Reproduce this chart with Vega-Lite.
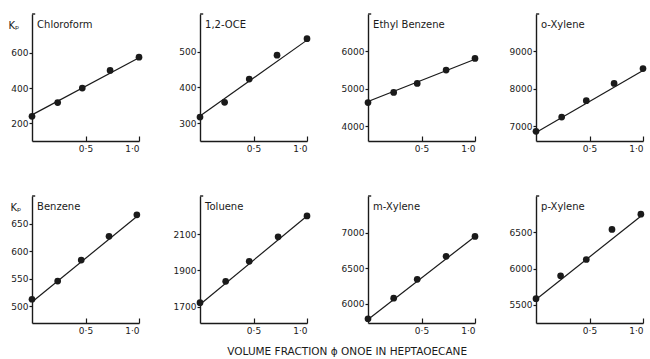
{
  "$schema": "https://vega.github.io/schema/vega-lite/v6.json",
  "padding": {"left": 8, "top": 13, "right": 0, "bottom": 2},
  "background": "white",
  "bounds": "flush",
  "columns": 4,
  "spacing": {"row": 55, "column": 61},
  "title": {"text": "VOLUME FRACTION ϕ ONOE IN HEPTAOECANE", "orient": "bottom", "anchor": "middle", "font": "DejaVu Sans", "fontSize": 10.5, "fontWeight": "normal", "color": "#1a1a1a", "dx": 20, "offset": 12},
  "datasets": {
    "pts": [
      {"c": "Chloroform", "phi": 0, "kp": 240}, {"c": "Chloroform", "phi": 0.24, "kp": 318}, {"c": "Chloroform", "phi": 0.47, "kp": 400}, {"c": "Chloroform", "phi": 0.73, "kp": 500}, {"c": "Chloroform", "phi": 1, "kp": 575},
      {"c": "DCE", "phi": 0, "kp": 317}, {"c": "DCE", "phi": 0.23, "kp": 358}, {"c": "DCE", "phi": 0.46, "kp": 423}, {"c": "DCE", "phi": 0.72, "kp": 490}, {"c": "DCE", "phi": 1, "kp": 536},
      {"c": "Ethyl Benzene", "phi": 0, "kp": 4630}, {"c": "Ethyl Benzene", "phi": 0.24, "kp": 4900}, {"c": "Ethyl Benzene", "phi": 0.46, "kp": 5140}, {"c": "Ethyl Benzene", "phi": 0.73, "kp": 5500}, {"c": "Ethyl Benzene", "phi": 1, "kp": 5810},
      {"c": "o-Xylene", "phi": 0, "kp": 6860}, {"c": "o-Xylene", "phi": 0.24, "kp": 7240}, {"c": "o-Xylene", "phi": 0.47, "kp": 7680}, {"c": "o-Xylene", "phi": 0.73, "kp": 8140}, {"c": "o-Xylene", "phi": 1, "kp": 8540},
      {"c": "Benzene", "phi": 0, "kp": 513}, {"c": "Benzene", "phi": 0.24, "kp": 546}, {"c": "Benzene", "phi": 0.46, "kp": 584}, {"c": "Benzene", "phi": 0.72, "kp": 627}, {"c": "Benzene", "phi": 0.98, "kp": 666},
      {"c": "Toluene", "phi": 0, "kp": 1722}, {"c": "Toluene", "phi": 0.24, "kp": 1840}, {"c": "Toluene", "phi": 0.46, "kp": 1950}, {"c": "Toluene", "phi": 0.73, "kp": 2085}, {"c": "Toluene", "phi": 1, "kp": 2200},
      {"c": "m-Xylene", "phi": 0, "kp": 5790}, {"c": "m-Xylene", "phi": 0.24, "kp": 6080}, {"c": "m-Xylene", "phi": 0.46, "kp": 6345}, {"c": "m-Xylene", "phi": 0.73, "kp": 6670}, {"c": "m-Xylene", "phi": 1, "kp": 6950},
      {"c": "p-Xylene", "phi": 0, "kp": 5585}, {"c": "p-Xylene", "phi": 0.23, "kp": 5900}, {"c": "p-Xylene", "phi": 0.47, "kp": 6125}, {"c": "p-Xylene", "phi": 0.71, "kp": 6540}, {"c": "p-Xylene", "phi": 0.98, "kp": 6750}
    ],
    "fit": [
      {"c": "Chloroform", "phi": 0, "kp": 248}, {"c": "Chloroform", "phi": 1, "kp": 572},
      {"c": "DCE", "phi": 0, "kp": 320}, {"c": "DCE", "phi": 1, "kp": 532},
      {"c": "Ethyl Benzene", "phi": 0, "kp": 4620}, {"c": "Ethyl Benzene", "phi": 0.03, "kp": 4690}, {"c": "Ethyl Benzene", "phi": 1, "kp": 5790},
      {"c": "o-Xylene", "phi": 0, "kp": 6830}, {"c": "o-Xylene", "phi": 1, "kp": 8490},
      {"c": "Benzene", "phi": 0, "kp": 508}, {"c": "Benzene", "phi": 1, "kp": 666},
      {"c": "Toluene", "phi": 0, "kp": 1712}, {"c": "Toluene", "phi": 1, "kp": 2200},
      {"c": "m-Xylene", "phi": 0, "kp": 5780}, {"c": "m-Xylene", "phi": 1, "kp": 6950},
      {"c": "p-Xylene", "phi": 0, "kp": 5575}, {"c": "p-Xylene", "phi": 1, "kp": 6745}
    ],
    "names": [
      {"c": "Chloroform", "label": "Chloroform"}, {"c": "DCE", "label": "1,2-OCE"}, {"c": "Ethyl Benzene", "label": "Ethyl Benzene"}, {"c": "o-Xylene", "label": "o-Xylene"},
      {"c": "Benzene", "label": "Benzene"}, {"c": "Toluene", "label": "Toluene"}, {"c": "m-Xylene", "label": "m-Xylene"}, {"c": "p-Xylene", "label": "p-Xylene"}
    ]
  },
  "concat": [
      {"width": 107, "height": 127,
       "layer": [
         {"data": {"name": "fit"}, "transform": [{"filter": {"field": "c", "equal": "Chloroform"}}], "mark": {"type": "line", "color": "#1a1a1a", "strokeWidth": 1.2},
          "encoding": {"x": {"field": "phi", "type": "quantitative", "scale": {"domain": [0, 1], "nice": false}, "axis": {"values": [0.5, 1], "format": ".1f", "labelExpr": "replace(datum.label, '.', '·')", "title": null}},
                       "y": {"field": "kp", "type": "quantitative", "scale": {"domain": [100, 820], "nice": false, "zero": false}, "axis": {"values": [200, 400, 600], "title": "Kₚ", "titleAngle": 0, "titleX": -24, "titleY": 6, "titleAlign": "left", "titleBaseline": "top"}}}},
         {"data": {"name": "pts"}, "transform": [{"filter": {"field": "c", "equal": "Chloroform"}}], "mark": {"type": "circle", "size": 45, "color": "#1a1a1a", "opacity": 1}, "encoding": {"x": {"field": "phi", "type": "quantitative"}, "y": {"field": "kp", "type": "quantitative"}}},
         {"data": {"name": "names"}, "transform": [{"filter": {"field": "c", "equal": "Chloroform"}}], "mark": {"type": "text", "align": "left", "baseline": "top", "dx": 4, "dy": 6, "fontSize": 10, "font": "DejaVu Sans", "color": "#1a1a1a"}, "encoding": {"x": {"datum": 0.01}, "y": {"datum": 820}, "text": {"field": "label"}}},
         {"data": {"name": "names"}, "transform": [{"filter": {"field": "c", "equal": "Chloroform"}}], "mark": {"type": "rule", "color": "#1a1a1a", "strokeWidth": 1.4}, "encoding": {"x": {"datum": 0.001}, "x2": {"datum": 0.03}, "y": {"datum": 820}}}
       ]},
      {"width": 107, "height": 127,
       "layer": [
         {"data": {"name": "fit"}, "transform": [{"filter": {"field": "c", "equal": "DCE"}}], "mark": {"type": "line", "color": "#1a1a1a", "strokeWidth": 1.2},
          "encoding": {"x": {"field": "phi", "type": "quantitative", "scale": {"domain": [0, 1], "nice": false}, "axis": {"values": [0.5, 1], "format": ".1f", "labelExpr": "replace(datum.label, '.', '·')", "title": null}},
                       "y": {"field": "kp", "type": "quantitative", "scale": {"domain": [250, 605], "nice": false, "zero": false}, "axis": {"values": [300, 400, 500], "title": null}}}},
         {"data": {"name": "pts"}, "transform": [{"filter": {"field": "c", "equal": "DCE"}}], "mark": {"type": "circle", "size": 45, "color": "#1a1a1a", "opacity": 1}, "encoding": {"x": {"field": "phi", "type": "quantitative"}, "y": {"field": "kp", "type": "quantitative"}}},
         {"data": {"name": "names"}, "transform": [{"filter": {"field": "c", "equal": "DCE"}}], "mark": {"type": "text", "align": "left", "baseline": "top", "dx": 4, "dy": 6, "fontSize": 10, "font": "DejaVu Sans", "color": "#1a1a1a"}, "encoding": {"x": {"datum": 0.01}, "y": {"datum": 605}, "text": {"field": "label"}}},
         {"data": {"name": "names"}, "transform": [{"filter": {"field": "c", "equal": "DCE"}}], "mark": {"type": "rule", "color": "#1a1a1a", "strokeWidth": 1.4}, "encoding": {"x": {"datum": 0.001}, "x2": {"datum": 0.03}, "y": {"datum": 605}}}
       ]},
      {"width": 107, "height": 127,
       "layer": [
         {"data": {"name": "fit"}, "transform": [{"filter": {"field": "c", "equal": "Ethyl Benzene"}}], "mark": {"type": "line", "color": "#1a1a1a", "strokeWidth": 1.2},
          "encoding": {"x": {"field": "phi", "type": "quantitative", "scale": {"domain": [0, 1], "nice": false}, "axis": {"values": [0.5, 1], "format": ".1f", "labelExpr": "replace(datum.label, '.', '·')", "title": null}},
                       "y": {"field": "kp", "type": "quantitative", "scale": {"domain": [3600, 7000], "nice": false, "zero": false}, "axis": {"values": [4000, 5000, 6000], "format": "d", "title": null}}}},
         {"data": {"name": "pts"}, "transform": [{"filter": {"field": "c", "equal": "Ethyl Benzene"}}], "mark": {"type": "circle", "size": 45, "color": "#1a1a1a", "opacity": 1}, "encoding": {"x": {"field": "phi", "type": "quantitative"}, "y": {"field": "kp", "type": "quantitative"}}},
         {"data": {"name": "names"}, "transform": [{"filter": {"field": "c", "equal": "Ethyl Benzene"}}], "mark": {"type": "text", "align": "left", "baseline": "top", "dx": 4, "dy": 6, "fontSize": 10, "font": "DejaVu Sans", "color": "#1a1a1a"}, "encoding": {"x": {"datum": 0.01}, "y": {"datum": 7000}, "text": {"field": "label"}}},
         {"data": {"name": "names"}, "transform": [{"filter": {"field": "c", "equal": "Ethyl Benzene"}}], "mark": {"type": "rule", "color": "#1a1a1a", "strokeWidth": 1.4}, "encoding": {"x": {"datum": 0.001}, "x2": {"datum": 0.03}, "y": {"datum": 7000}}}
       ]},
      {"width": 107, "height": 127,
       "layer": [
         {"data": {"name": "fit"}, "transform": [{"filter": {"field": "c", "equal": "o-Xylene"}}], "mark": {"type": "line", "color": "#1a1a1a", "strokeWidth": 1.2},
          "encoding": {"x": {"field": "phi", "type": "quantitative", "scale": {"domain": [0, 1], "nice": false}, "axis": {"values": [0.5, 1], "format": ".1f", "labelExpr": "replace(datum.label, '.', '·')", "title": null}},
                       "y": {"field": "kp", "type": "quantitative", "scale": {"domain": [6600, 10000], "nice": false, "zero": false}, "axis": {"values": [7000, 8000, 9000], "format": "d", "title": null}}}},
         {"data": {"name": "pts"}, "transform": [{"filter": {"field": "c", "equal": "o-Xylene"}}], "mark": {"type": "circle", "size": 45, "color": "#1a1a1a", "opacity": 1}, "encoding": {"x": {"field": "phi", "type": "quantitative"}, "y": {"field": "kp", "type": "quantitative"}}},
         {"data": {"name": "names"}, "transform": [{"filter": {"field": "c", "equal": "o-Xylene"}}], "mark": {"type": "text", "align": "left", "baseline": "top", "dx": 4, "dy": 6, "fontSize": 10, "font": "DejaVu Sans", "color": "#1a1a1a"}, "encoding": {"x": {"datum": 0.01}, "y": {"datum": 10000}, "text": {"field": "label"}}},
         {"data": {"name": "names"}, "transform": [{"filter": {"field": "c", "equal": "o-Xylene"}}], "mark": {"type": "rule", "color": "#1a1a1a", "strokeWidth": 1.4}, "encoding": {"x": {"datum": 0.001}, "x2": {"datum": 0.03}, "y": {"datum": 10000}}}
       ]},
      {"width": 107, "height": 127,
       "layer": [
         {"data": {"name": "fit"}, "transform": [{"filter": {"field": "c", "equal": "Benzene"}}], "mark": {"type": "line", "color": "#1a1a1a", "strokeWidth": 1.2},
          "encoding": {"x": {"field": "phi", "type": "quantitative", "scale": {"domain": [0, 1], "nice": false}, "axis": {"values": [0.5, 1], "format": ".1f", "labelExpr": "replace(datum.label, '.', '·')", "title": null}},
                       "y": {"field": "kp", "type": "quantitative", "scale": {"domain": [470, 700], "nice": false, "zero": false}, "axis": {"values": [500, 550, 600, 650], "title": "Kₚ", "titleAngle": 0, "titleX": -22, "titleY": 6, "titleAlign": "left", "titleBaseline": "top"}}}},
         {"data": {"name": "pts"}, "transform": [{"filter": {"field": "c", "equal": "Benzene"}}], "mark": {"type": "circle", "size": 45, "color": "#1a1a1a", "opacity": 1}, "encoding": {"x": {"field": "phi", "type": "quantitative"}, "y": {"field": "kp", "type": "quantitative"}}},
         {"data": {"name": "names"}, "transform": [{"filter": {"field": "c", "equal": "Benzene"}}], "mark": {"type": "text", "align": "left", "baseline": "top", "dx": 4, "dy": 6, "fontSize": 10, "font": "DejaVu Sans", "color": "#1a1a1a"}, "encoding": {"x": {"datum": 0.01}, "y": {"datum": 700}, "text": {"field": "label"}}},
         {"data": {"name": "names"}, "transform": [{"filter": {"field": "c", "equal": "Benzene"}}], "mark": {"type": "rule", "color": "#1a1a1a", "strokeWidth": 1.4}, "encoding": {"x": {"datum": 0.001}, "x2": {"datum": 0.03}, "y": {"datum": 700}}}
       ]},
      {"width": 107, "height": 127,
       "layer": [
         {"data": {"name": "fit"}, "transform": [{"filter": {"field": "c", "equal": "Toluene"}}], "mark": {"type": "line", "color": "#1a1a1a", "strokeWidth": 1.2},
          "encoding": {"x": {"field": "phi", "type": "quantitative", "scale": {"domain": [0, 1], "nice": false}, "axis": {"values": [0.5, 1], "format": ".1f", "labelExpr": "replace(datum.label, '.', '·')", "title": null}},
                       "y": {"field": "kp", "type": "quantitative", "scale": {"domain": [1610, 2310], "nice": false, "zero": false}, "axis": {"values": [1700, 1900, 2100], "format": "d", "title": null}}}},
         {"data": {"name": "pts"}, "transform": [{"filter": {"field": "c", "equal": "Toluene"}}], "mark": {"type": "circle", "size": 45, "color": "#1a1a1a", "opacity": 1}, "encoding": {"x": {"field": "phi", "type": "quantitative"}, "y": {"field": "kp", "type": "quantitative"}}},
         {"data": {"name": "names"}, "transform": [{"filter": {"field": "c", "equal": "Toluene"}}], "mark": {"type": "text", "align": "left", "baseline": "top", "dx": 4, "dy": 6, "fontSize": 10, "font": "DejaVu Sans", "color": "#1a1a1a"}, "encoding": {"x": {"datum": 0.01}, "y": {"datum": 2310}, "text": {"field": "label"}}},
         {"data": {"name": "names"}, "transform": [{"filter": {"field": "c", "equal": "Toluene"}}], "mark": {"type": "rule", "color": "#1a1a1a", "strokeWidth": 1.4}, "encoding": {"x": {"datum": 0.001}, "x2": {"datum": 0.03}, "y": {"datum": 2310}}}
       ]},
      {"width": 107, "height": 127,
       "layer": [
         {"data": {"name": "fit"}, "transform": [{"filter": {"field": "c", "equal": "m-Xylene"}}], "mark": {"type": "line", "color": "#1a1a1a", "strokeWidth": 1.2},
          "encoding": {"x": {"field": "phi", "type": "quantitative", "scale": {"domain": [0, 1], "nice": false}, "axis": {"values": [0.5, 1], "format": ".1f", "labelExpr": "replace(datum.label, '.', '·')", "title": null}},
                       "y": {"field": "kp", "type": "quantitative", "scale": {"domain": [5730, 7520], "nice": false, "zero": false}, "axis": {"values": [6000, 6500, 7000], "format": "d", "title": null}}}},
         {"data": {"name": "pts"}, "transform": [{"filter": {"field": "c", "equal": "m-Xylene"}}], "mark": {"type": "circle", "size": 45, "color": "#1a1a1a", "opacity": 1}, "encoding": {"x": {"field": "phi", "type": "quantitative"}, "y": {"field": "kp", "type": "quantitative"}}},
         {"data": {"name": "names"}, "transform": [{"filter": {"field": "c", "equal": "m-Xylene"}}], "mark": {"type": "text", "align": "left", "baseline": "top", "dx": 4, "dy": 6, "fontSize": 10, "font": "DejaVu Sans", "color": "#1a1a1a"}, "encoding": {"x": {"datum": 0.01}, "y": {"datum": 7520}, "text": {"field": "label"}}},
         {"data": {"name": "names"}, "transform": [{"filter": {"field": "c", "equal": "m-Xylene"}}], "mark": {"type": "rule", "color": "#1a1a1a", "strokeWidth": 1.4}, "encoding": {"x": {"datum": 0.001}, "x2": {"datum": 0.03}, "y": {"datum": 7520}}}
       ]},
      {"width": 107, "height": 127,
       "layer": [
         {"data": {"name": "fit"}, "transform": [{"filter": {"field": "c", "equal": "p-Xylene"}}], "mark": {"type": "line", "color": "#1a1a1a", "strokeWidth": 1.2},
          "encoding": {"x": {"field": "phi", "type": "quantitative", "scale": {"domain": [0, 1], "nice": false}, "axis": {"values": [0.5, 1], "format": ".1f", "labelExpr": "replace(datum.label, '.', '·')", "title": null}},
                       "y": {"field": "kp", "type": "quantitative", "scale": {"domain": [5250, 7000], "nice": false, "zero": false}, "axis": {"values": [5500, 6000, 6500], "format": "d", "title": null}}}},
         {"data": {"name": "pts"}, "transform": [{"filter": {"field": "c", "equal": "p-Xylene"}}], "mark": {"type": "circle", "size": 45, "color": "#1a1a1a", "opacity": 1}, "encoding": {"x": {"field": "phi", "type": "quantitative"}, "y": {"field": "kp", "type": "quantitative"}}},
         {"data": {"name": "names"}, "transform": [{"filter": {"field": "c", "equal": "p-Xylene"}}], "mark": {"type": "text", "align": "left", "baseline": "top", "dx": 4, "dy": 6, "fontSize": 10, "font": "DejaVu Sans", "color": "#1a1a1a"}, "encoding": {"x": {"datum": 0.01}, "y": {"datum": 7000}, "text": {"field": "label"}}},
         {"data": {"name": "names"}, "transform": [{"filter": {"field": "c", "equal": "p-Xylene"}}], "mark": {"type": "rule", "color": "#1a1a1a", "strokeWidth": 1.4}, "encoding": {"x": {"datum": 0.001}, "x2": {"datum": 0.03}, "y": {"datum": 7000}}}
       ]}
  ],
  "resolve": {"scale": {"x": "independent", "y": "independent"}},
  "config": {
    "view": {"stroke": null},
    "axis": {"grid": false, "domainColor": "#1a1a1a", "domainWidth": 1.4, "tickColor": "#1a1a1a", "tickWidth": 1.2, "labelColor": "#1a1a1a", "labelFont": "DejaVu Sans", "labelFontSize": 9, "titleFont": "DejaVu Sans", "titleFontSize": 10, "titleFontWeight": "normal", "titleColor": "#1a1a1a", "tickSize": 3, "labelPadding": 1},
    "axisX": {"tickSize": -5, "labelPadding": 8}
  }
}
